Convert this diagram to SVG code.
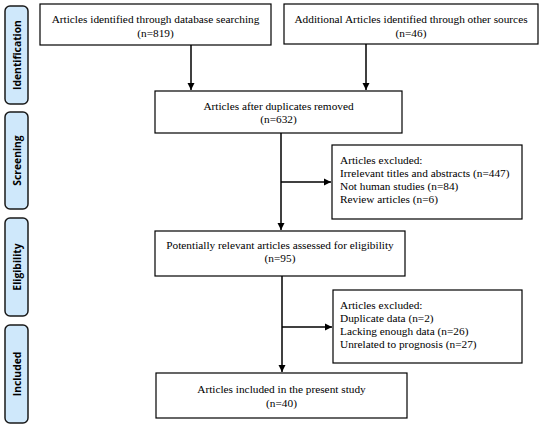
<svg xmlns="http://www.w3.org/2000/svg" width="540" height="426" viewBox="0 0 540 426">
<defs>
<marker id="ah" markerWidth="8" markerHeight="8" refX="7" refY="4" orient="auto" markerUnits="userSpaceOnUse">
<path d="M0,0.5 L7,4 L0,7.5 Z" fill="#000"/>
</marker>
<style>
.box{fill:#fff;stroke:#000;stroke-width:1.2}
.side{fill:#cfe8fb;stroke:#1a1a1a;stroke-width:1.5}
.t{font-family:"Liberation Serif","Times New Roman",serif;font-size:11.3px;fill:#000}
.c{text-anchor:middle}
.s{font-family:"Open Sans","Liberation Sans",sans-serif;font-weight:bold;font-size:10.3px;fill:#000;text-anchor:middle}
.ln{fill:none;stroke:#000;stroke-width:1.5}
</style>
</defs>
<rect width="540" height="426" fill="#fff"/>
<g id="stage-identification"><rect class="side" x="5" y="6" width="23" height="98" rx="5"/><text class="s" transform="translate(20.5,55) rotate(-90)">Identification</text></g>
<g id="stage-screening"><rect class="side" x="5" y="112" width="23" height="97" rx="5"/><text class="s" transform="translate(20.5,160.5) rotate(-90)">Screening</text></g>
<g id="stage-eligibility"><rect class="side" x="5" y="218" width="23" height="98" rx="5"/><text class="s" transform="translate(20.5,267) rotate(-90)">Eligibility</text></g>
<g id="stage-included"><rect class="side" x="5" y="325" width="23" height="98" rx="5"/><text class="s" transform="translate(20.5,374) rotate(-90)">Included</text></g>
<g id="connectors">
<line class="ln" x1="191" y1="45" x2="191" y2="90" marker-end="url(#ah)"/>
<line class="ln" x1="366" y1="44" x2="366" y2="90" marker-end="url(#ah)"/>
<line class="ln" x1="281" y1="133" x2="281" y2="230" marker-end="url(#ah)"/>
<line class="ln" x1="281" y1="182" x2="331" y2="182" marker-end="url(#ah)"/>
<line class="ln" x1="282" y1="276" x2="282" y2="372" marker-end="url(#ah)"/>
<line class="ln" x1="282" y1="327" x2="332" y2="327" marker-end="url(#ah)"/>
</g>
<g id="db-search"><rect class="box" x="40" y="4" width="231" height="41"/><text class="t c" x="155.5" y="23">Articles identified through database searching</text><text class="t c" x="155.5" y="37">(n=819)</text></g>
<g id="other-sources"><rect class="box" x="284" y="4" width="254" height="40"/><text class="t c" x="411" y="23">Additional Articles identified through other sources</text><text class="t c" x="411" y="37">(n=46)</text></g>
<g id="duplicates-removed"><rect class="box" x="155" y="91" width="247" height="42"/><text class="t c" x="278.5" y="110">Articles after duplicates removed</text><text class="t c" x="278.5" y="123">(n=632)</text></g>
<g id="excluded-1"><rect class="box" x="332" y="145" width="190" height="74"/><text class="t" x="340" y="164">Articles excluded:</text><text class="t" x="340" y="177">Irrelevant titles and abstracts (n=447)</text><text class="t" x="340" y="190">Not human studies (n=84)</text><text class="t" x="340" y="203">Review articles (n=6)</text></g>
<g id="eligibility-assessed"><rect class="box" x="155" y="231" width="250" height="45"/><text class="t c" x="280" y="249">Potentially relevant articles assessed for eligibility</text><text class="t c" x="280" y="262">(n=95)</text></g>
<g id="excluded-2"><rect class="box" x="333" y="290" width="189" height="73"/><text class="t" x="340" y="309">Articles excluded:</text><text class="t" x="340" y="322">Duplicate data (n=2)</text><text class="t" x="340" y="335">Lacking enough data (n=26)</text><text class="t" x="340" y="348">Unrelated to prognosis (n=27)</text></g>
<g id="included"><rect class="box" x="156" y="373" width="251" height="45"/><text class="t c" x="281.5" y="393">Articles included in the present study</text><text class="t c" x="281.5" y="407">(n=40)</text></g>
</svg>
